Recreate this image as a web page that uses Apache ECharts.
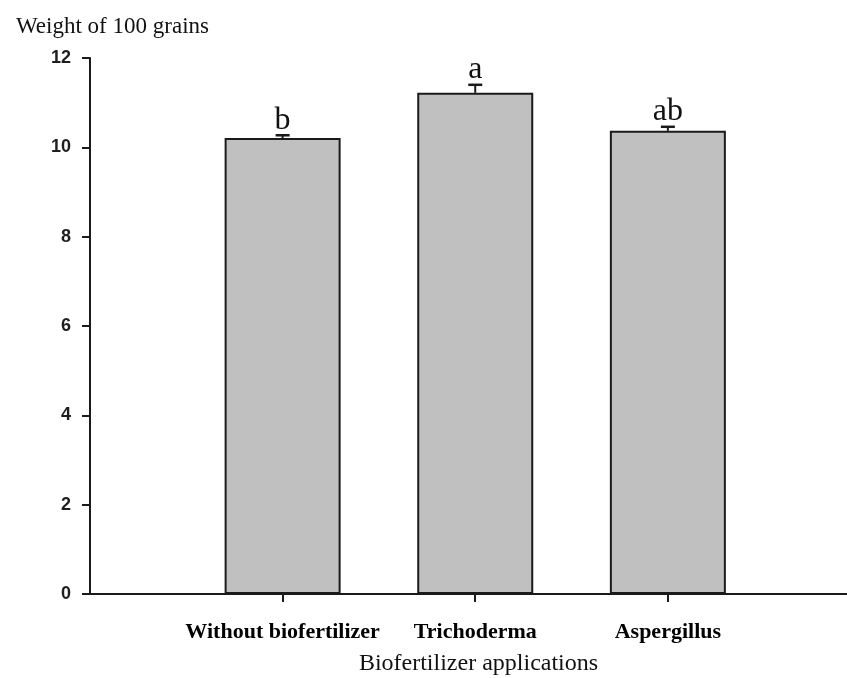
<!DOCTYPE html>
<html>
<head>
<meta charset="utf-8">
<script src="https://cdn.jsdelivr.net/npm/echarts@6/dist/echarts.min.js"></script>
<style>html,body{margin:0;padding:0;background:#fff}#c{width:847px;height:678px}</style>
</head>
<body>
<div id="c"></div>
<script>
const categories = ['Without biofertilizer', 'Trichoderma', 'Aspergillus'];
const positions = [1, 2, 3];
const means = [10.21, 11.22, 10.37];
const errors = [0.06, 0.18, 0.09];
const letters = ['b', 'a', 'ab'];
const yMin = 0, yMax = 12, yStep = 2;

const chart = echarts.init(document.getElementById('c'), null, {renderer: 'canvas'});
const serif = '"Liberation Serif", "Times New Roman", serif';
const ink = '#1a1a1a';

chart.setOption({
  animation: false,
  backgroundColor: '#fff',
  title: {
    text: 'Weight of 100 grains',
    left: 11, top: 10,
    textStyle: {fontFamily: serif, fontSize: 23, fontWeight: 'normal', color: '#111'}
  },
  grid: {left: 90, right: 0, top: 58, bottom: 84, containLabel: false, outerBoundsMode: 'none'},
  xAxis: {
    type: 'value',
    min: 0, max: 3.93,
    interval: 1,
    splitLine: {show: false},
    axisLine: {show: true, onZero: false, lineStyle: {color: ink, width: 2}},
    axisTick: {show: true, customValues: positions, length: 8, lineStyle: {color: ink, width: 2}},
    axisLabel: {
      customValues: positions,
      margin: 27,
      fontFamily: serif, fontSize: 22, fontWeight: 'bold', color: '#000',
      formatter: v => categories[Math.round(v) - 1] || ''
    },
    name: 'Biofertilizer applications',
    nameLocation: 'middle',
    nameGap: 58,
    nameTextStyle: {fontFamily: serif, fontSize: 24, color: '#111', padding: [0, 0, 0, 20]}
  },
  yAxis: {
    type: 'value',
    min: yMin, max: yMax, interval: yStep,
    splitLine: {show: false},
    axisLine: {show: true, lineStyle: {color: ink, width: 2}},
    axisTick: {show: true, length: 8, lineStyle: {color: ink, width: 2}},
    axisLabel: {margin: 19, fontFamily: '"Liberation Sans", Arial, sans-serif', fontSize: 18, fontWeight: 'bold', color: '#1e1e1e'}
  },
  series: [
    {
      type: 'bar',
      barWidth: 116,
      data: positions.map((p, i) => [p, means[i]]),
      itemStyle: {color: '#c0c0c0', borderColor: ink, borderWidth: 2}
    },
    {
      type: 'custom',
      data: positions.map((p, i) => [p, means[i], errors[i]]),
      renderItem: function (params, api) {
        const x = api.value(0), m = api.value(1), e = api.value(2);
        const top = api.coord([x, m]);
        const cap = api.coord([x, m + e]);
        const hw = 7;
        return {
          type: 'group',
          children: [
            {type: 'line', shape: {x1: top[0], y1: top[1], x2: cap[0], y2: cap[1]}, style: {stroke: ink, lineWidth: 2}},
            {type: 'line', shape: {x1: cap[0] - hw, y1: cap[1], x2: cap[0] + hw, y2: cap[1]}, style: {stroke: ink, lineWidth: 2.5}},
            {type: 'text', style: {text: letters[params.dataIndex], x: cap[0], y: cap[1] + 1, align: 'center', verticalAlign: 'bottom', font: '32px ' + serif, fill: '#111'}}
          ]
        };
      },
      z: 5
    }
  ]
});
</script>
</body>
</html>
